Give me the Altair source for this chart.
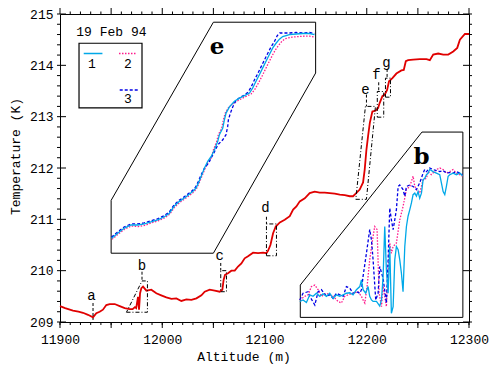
import altair as alt
import pandas as pd

# ---------------- main profile (altitude m, temperature K) ----------------
main_alt = [11900, 11905, 11912.7, 11918, 11922.5, 11927.4, 11932.3, 11935.5, 11938.8, 11942,
            11945.3, 11948.6, 11953.5, 11958.4, 11963.3, 11968.2, 11971, 11973.3, 11974.5, 11976.3,
            11977.3, 11978.3, 11979.6, 11981.2, 11984.5, 11989.3, 11994.2, 11999, 12004, 12009,
            12013.8, 12018.7, 12023.6, 12028.5, 12033.4, 12038.3, 12041.5, 12046.4, 12051.3, 12056.2,
            12058.8, 12060, 12061.4, 12064.3, 12067.6, 12070.9, 12074.1, 12077.4, 12080.6, 12083.9,
            12088.8, 12093.7, 12098.6, 12101.9, 12103.5, 12105.8, 12108.4, 12111, 12115, 12119.8,
            12124.7, 12128, 12131.2, 12134.5, 12139.4, 12144.2, 12149.1, 12154, 12158.9, 12163.8,
            12168.7, 12173.6, 12178.5, 12183.4, 12186.6, 12189.2, 12193.1, 12196.4, 12198, 12199.7,
            12201.3, 12203, 12205.5, 12208.8, 12211.1, 12212.7, 12215.3, 12217.6, 12219.9, 12221.8,
            12225.1, 12229, 12233.9, 12236.2, 12238.2, 12240.5, 12245.4, 12251.9, 12258.4, 12261.7,
            12265, 12269.9, 12274.8, 12279.7, 12284.6, 12288.5, 12291.1, 12296, 12300]
main_temp = [209.31, 209.27, 209.22, 209.20, 209.18, 209.14, 209.09, 209.17, 209.20, 209.24,
             209.33, 209.35, 209.35, 209.31, 209.27, 209.25, 209.25, 209.29, 209.27, 209.49,
             209.24, 209.56, 209.66, 209.69, 209.61, 209.63, 209.56, 209.52, 209.48, 209.45,
             209.46, 209.41, 209.44, 209.43, 209.46, 209.52, 209.59, 209.63, 209.61, 209.59,
             209.63, 209.82, 209.92, 209.95, 210.00, 210.00, 210.08, 210.14, 210.24, 210.28,
             210.35, 210.34, 210.35, 210.34, 210.39, 210.50, 210.73, 210.86, 210.94, 210.99,
             211.06, 211.19, 211.25, 211.35, 211.41, 211.51, 211.54, 211.52, 211.52, 211.51,
             211.50, 211.48, 211.47, 211.45, 211.45, 211.50, 211.58, 211.72, 211.97, 212.36,
             212.62, 212.88, 213.10, 213.12, 213.17, 213.27, 213.40, 213.43, 213.52, 213.69,
             213.75, 213.84, 213.90, 213.91, 214.08, 214.10, 214.11, 214.12, 214.12, 214.10,
             214.21, 214.23, 214.21, 214.21, 214.27, 214.34, 214.50, 214.61, 214.61]

# ---------------- inset "e" (drawn in main-axis units) ----------------
e1_alt = [11950.6, 11956.4, 11963.0, 11969.5, 11976.0, 11982.6, 11989.0, 11995.6, 12002.1, 12007.0,
          12011.9, 12016.8, 12023.3, 12029.8, 12033.0, 12035.4, 12037.9, 12041.3, 12044.5, 12047.7,
          12051.0, 12054.3, 12055.9, 12059.2, 12060.8, 12062.4, 12065.7, 12070.6, 12075.5, 12080.4,
          12085.3, 12088.5, 12091.7, 12095.1, 12098.3, 12101.5, 12104.8, 12108.1, 12111.3, 12114.6,
          12117.8, 12124.4, 12130.9, 12137.4, 12144.0, 12148.9]
e1_temp = [210.63, 210.73, 210.83, 210.89, 210.89, 210.91, 210.95, 210.99, 211.05, 211.12,
           211.26, 211.35, 211.44, 211.54, 211.61, 211.71, 211.83, 212.00, 212.13, 212.22,
           212.35, 212.52, 212.65, 212.78, 212.94, 213.07, 213.19, 213.30, 213.36, 213.41,
           213.46, 213.56, 213.69, 213.82, 213.95, 214.08, 214.21, 214.34, 214.43, 214.51,
           214.56, 214.60, 214.61, 214.62, 214.62, 214.60]
e2_alt = [11950.9, 11956.7, 11963.3, 11969.8, 11976.3, 11982.9, 11989.3, 11995.9, 12002.4, 12007.3,
          12012.2, 12017.1, 12023.6, 12030.1, 12033.3, 12035.7, 12038.2, 12041.6, 12044.8, 12048.0,
          12050.0, 12053.3, 12054.9, 12058.2, 12059.8, 12061.6, 12065.2, 12071.1, 12076.5, 12081.4,
          12086.8, 12090.5, 12094.2, 12097.6, 12100.8, 12104.0, 12107.3, 12110.6, 12113.8, 12117.1,
          12120.3, 12126.9, 12133.4, 12139.9, 12144.0, 12148.9]
e2_temp = [210.61, 210.71, 210.81, 210.87, 210.86, 210.88, 210.93, 210.97, 211.03, 211.10,
           211.24, 211.33, 211.42, 211.52, 211.59, 211.69, 211.81, 211.98, 212.11, 212.20,
           212.35, 212.52, 212.65, 212.78, 212.94, 213.07, 213.19, 213.28, 213.34, 213.39,
           213.44, 213.53, 213.66, 213.79, 213.92, 214.05, 214.18, 214.30, 214.39, 214.47,
           214.52, 214.55, 214.56, 214.57, 214.57, 214.55]
e3_alt = [11950.3, 11956.1, 11962.7, 11969.2, 11975.7, 11982.3, 11988.7, 11995.3, 12001.8, 12006.7,
          12011.6, 12016.5, 12023.0, 12029.5, 12032.7, 12035.1, 12037.6, 12041.3, 12045.5, 12047.7,
          12050.4, 12054.3, 12059.2, 12062.4, 12064.0, 12064.7, 12066.7, 12068.9, 12071.9, 12075.5,
          12080.4, 12084.0, 12087.0, 12090.0, 12093.4, 12096.6, 12099.8, 12103.1, 12106.4, 12109.6,
          12112.5, 12115.0, 12124.4, 12130.9, 12137.4, 12144.0, 12148.9]
e3_temp = [210.65, 210.75, 210.85, 210.91, 210.91, 210.93, 210.97, 211.01, 211.07, 211.14,
           211.28, 211.37, 211.46, 211.56, 211.63, 211.73, 211.85, 212.00, 212.10, 212.19,
           212.29, 212.45, 212.55, 212.65, 212.81, 212.94, 213.07, 213.19, 213.31, 213.37,
           213.42, 213.48, 213.58, 213.71, 213.84, 213.97, 214.10, 214.23, 214.36, 214.46,
           214.58, 214.63, 214.63, 214.64, 214.63, 214.64, 214.62]

# ---------------- inset "b" (drawn in main-axis units) ----------------
b1_alt = [12134.5, 12137.7, 12141.0, 12144.3, 12147.5, 12150.8, 12154.0, 12157.3, 12160.6, 12163.8,
          12167.1, 12170.3, 12173.6, 12176.9, 12180.1, 12183.4, 12186.6, 12189.9, 12193.2, 12194.8,
          12196.4, 12199.0, 12201.3, 12202.9, 12204.6, 12206.2, 12209.5, 12212.7, 12214.4, 12216.0,
          12217.6, 12219.2, 12220.9, 12222.5, 12224.1, 12225.8, 12227.4, 12229.0, 12230.7, 12232.3,
          12233.9, 12235.5, 12237.2, 12238.8, 12240.4, 12242.1, 12243.7, 12245.3, 12247.0, 12248.6,
          12250.2, 12251.8, 12253.5, 12255.1, 12256.7, 12258.4, 12260.0, 12261.6, 12264.9, 12268.1,
          12271.4, 12273.0, 12274.7, 12276.3, 12277.9, 12279.6, 12281.2, 12284.4, 12287.7, 12291.0,
          12293.6]
b1_temp = [209.40, 209.43, 209.38, 209.53, 209.50, 209.56, 209.50, 209.55, 209.50, 209.56,
           209.46, 209.53, 209.50, 209.53, 209.56, 209.57, 209.53, 209.63, 209.69, 209.82,
           209.63, 209.56, 209.69, 209.50, 209.43, 209.40, 209.40, 209.31, 209.43, 209.89,
           210.86, 210.02, 209.56, 210.47, 209.17, 209.30, 210.21, 210.47, 210.41, 210.21,
           209.95, 209.59, 210.47, 210.86, 211.06, 211.19, 211.32, 211.48, 211.51, 211.45,
           211.54, 211.41, 211.51, 211.77, 211.80, 211.87, 211.90, 211.97, 211.93, 211.90,
           211.87, 211.71, 211.54, 211.48, 211.64, 211.84, 211.87, 211.90, 211.87, 211.90,
           211.85]
b2_alt = [12134.5, 12139.4, 12142.6, 12145.9, 12149.2, 12152.4, 12155.7, 12160.6, 12167.1, 12172.0,
          12175.2, 12178.5, 12181.8, 12186.6, 12191.5, 12194.8, 12196.4, 12198.1, 12200.3, 12202.9,
          12206.2, 12207.8, 12210.1, 12212.1, 12214.4, 12216.0, 12217.6, 12219.2, 12220.9, 12222.5,
          12224.1, 12225.8, 12229.0, 12232.3, 12235.5, 12238.8, 12242.1, 12245.3, 12247.0, 12248.6,
          12251.8, 12255.1, 12258.4, 12260.0, 12263.2, 12268.1, 12271.4, 12274.7, 12277.9, 12281.2,
          12284.4, 12287.7, 12291.0, 12293.6]
b2_temp = [209.43, 209.50, 209.53, 209.69, 209.72, 209.63, 209.50, 209.56, 209.50, 209.40,
           209.37, 209.50, 209.53, 209.56, 209.59, 209.50, 209.43, 209.37, 209.69, 210.21,
           210.67, 210.86, 210.80, 209.56, 209.30, 209.69, 209.50, 209.30, 210.02, 210.54,
           210.34, 210.47, 210.54, 210.99, 211.25, 211.58, 211.64, 211.84, 211.64, 211.58,
           211.51, 211.77, 211.80, 211.93, 211.87, 211.97, 212.00, 211.97, 211.90, 211.93,
           211.97, 211.90, 211.87, 211.84]
b3_alt = [12134.5, 12137.7, 12142.6, 12144.3, 12149.2, 12152.4, 12155.7, 12160.6, 12163.8, 12167.1,
          12170.3, 12173.6, 12176.9, 12180.1, 12183.4, 12186.6, 12189.9, 12193.2, 12194.8, 12196.4,
          12199.7, 12202.9, 12204.6, 12206.2, 12208.8, 12211.1, 12212.7, 12216.0, 12219.2, 12220.9,
          12222.5, 12224.1, 12225.8, 12227.4, 12229.0, 12230.7, 12232.3, 12235.5, 12237.2, 12238.8,
          12242.1, 12245.3, 12248.6, 12251.8, 12255.1, 12256.7, 12258.4, 12261.6, 12264.9, 12271.4,
          12274.7, 12277.9, 12281.2, 12284.4, 12287.7, 12291.0, 12293.6]
b3_temp = [209.43, 209.56, 209.59, 209.50, 209.33, 209.59, 209.63, 209.50, 209.53, 209.46,
           209.56, 209.53, 209.50, 209.69, 209.66, 209.56, 209.59, 209.56, 209.63, 209.89,
           210.34, 210.80, 210.60, 210.21, 209.43, 209.56, 210.08, 209.85, 209.37, 210.21,
           211.22, 210.99, 210.80, 210.99, 211.19, 211.64, 211.67, 211.58, 211.45, 211.64,
           211.67, 211.64, 211.58, 211.71, 211.90, 211.97, 211.93, 212.00, 211.97, 211.93,
           211.95, 211.90, 211.91, 211.90, 211.93, 211.90, 211.87]

# ---------------- inset frames (solid) ----------------
frame_e_alt = [12050, 12150, 12150, 12050, 11950, 11950, 12050]
frame_e_temp = [214.84, 214.84, 213.85, 210.34, 210.34, 211.37, 214.84]
frame_b_alt = [12254, 12294, 12294, 12135, 12135, 12254]
frame_b_temp = [212.70, 212.70, 209.09, 209.09, 209.72, 212.70]

# ---------------- dash-dot zoom boxes ----------------
boxes = {
    "b": ([11965, 11985.5, 11985.5, 11980.2, 11965], [209.19, 209.19, 209.80, 209.80, 209.19]),
    "c": ([12057.2, 12062.8, 12062.8, 12057.2, 12057.2], [209.59, 209.59, 210.00, 210.00, 209.59]),
    "d": ([12101.9, 12111.7, 12111.7, 12101.9, 12101.9], [210.29, 210.29, 210.91, 210.91, 210.29]),
    "e": ([12189.3, 12199.7, 12208.5, 12198.7, 12189.3], [211.39, 211.39, 213.20, 213.20, 211.39]),
    "f": ([12210.3, 12216.6, 12216.6, 12210.3, 12210.3], [212.99, 212.99, 213.49, 213.49, 212.99]),
    "g": ([12218.3, 12223.2, 12223.2, 12218.3, 12218.3], [213.38, 213.38, 213.75, 213.75, 213.38]),
}
label_names = ["a", "b", "c", "d", "e", "f", "g"]
label_alt = [11930.7, 11980.2, 12056.2, 12100.9, 12198.7, 12209.5, 12219.3]
label_temp = [209.50, 210.10, 210.29, 211.22, 213.52, 213.82, 214.04]
stem_alt = [11932.3, 11980.2, 12057.2, 12101.9, 12199.7, 12211.7, 12219.9]
stem_top = [209.37, 209.98, 210.15, 211.05, 213.43, 213.67, 213.93]
stem_bot = [209.04, 209.80, 210.00, 210.91, 213.20, 213.49, 213.75]

inset_names = ["e", "b"]
inset_alt = [12053.6, 12253.5]
inset_temp = [214.35, 212.22]

# ---------------- legend ----------------
legend_title = "19 Feb 94"
legend_box = (11918.6, 11980.2, 213.17, 214.43)
legend_keys = ["1", "2", "3"]
legend_line_alt = [(11923.2, 11941.5), (11957.7, 11975.3), (11958.4, 11976.3)]
legend_line_temp = [214.23, 214.23, 213.52]
legend_key_alt = [11931.3, 11966.5, 11966.5]
legend_key_temp = [214.03, 214.03, 213.34]

# ---------------- axes ----------------
x_labels = [11900, 12000, 12100, 12200, 12300]
y_labels = [209, 210, 211, 212, 213, 214, 215]
x_minor = list(range(11900, 12301, 10))
x_major = list(range(11900, 12301, 50))
y_minor = [round(209 + 0.2 * i, 2) for i in range(31)]

W, H = 409, 308
X0, X1, Y0, Y1 = 11900, 12300, 209, 215
MPP = (X1 - X0) / W
KPP = (Y1 - Y0) / H
FONT = "Liberation Mono"

xs = alt.Scale(domain=[X0, X1], nice=False, zero=False)
ys = alt.Scale(domain=[Y0, Y1], nice=False, zero=False)
AX = alt.Axis(values=x_labels, ticks=False, domain=False, grid=False, format="d",
              labelPadding=11, labelFlush=False, labelOverlap=False,
              title="Altitude (m)", titleX=183.5, titleY=38, titleBaseline="alphabetic")
AY = alt.Axis(values=y_labels, ticks=False, domain=False, grid=False, format="d",
              labelPadding=7, labelOverlap=False,
              title="Temperature (K)", titleX=-41, titleY=142, titleBaseline="alphabetic")


def X(f="alt"):
    return alt.X(f + ":Q", scale=xs, axis=AX)


def Y(f="temp"):
    return alt.Y(f + ":Q", scale=ys, axis=AY)


def path_df(alts, temps, g="g"):
    return pd.DataFrame({"alt": alts, "temp": temps, "i": list(range(len(alts))), "g": g})


layers = []

# ticks
tick_rows = []
for v in x_minor:
    L = 7 if v in x_major else 2.5
    tick_rows.append({"alt": v, "alt2": v, "temp": Y0, "temp2": Y0 - 3 * KPP})
    tick_rows.append({"alt": v, "alt2": v, "temp": Y1, "temp2": Y1 + L * KPP})
for v in x_major:
    tick_rows.append({"alt": v, "alt2": v, "temp": Y0, "temp2": Y0 - 6 * KPP})
for v in y_minor:
    tick_rows.append({"alt": X0, "alt2": X0 - 3 * MPP, "temp": v, "temp2": v})
    tick_rows.append({"alt": X1, "alt2": X1 + 3 * MPP, "temp": v, "temp2": v})
for v in y_labels:
    tick_rows.append({"alt": X0, "alt2": X0 + 6 * MPP, "temp": v, "temp2": v})
    tick_rows.append({"alt": X1, "alt2": X1 - 6 * MPP, "temp": v, "temp2": v})
ticks = alt.Chart(pd.DataFrame(tick_rows)).mark_rule(color="black", strokeWidth=1).encode(
    x=X(), x2="alt2:Q", y=Y(), y2="temp2:Q")
layers.append(ticks)

# inset frames
frames = pd.concat([path_df(frame_e_alt, frame_e_temp, "fe"), path_df(frame_b_alt, frame_b_temp, "fb")])
layers.append(alt.Chart(frames).mark_line(color="black", strokeWidth=1).encode(
    x=X(), y=Y(), detail="g:N", order="i:Q"))

# inset curves
cyan = pd.concat([path_df(e1_alt, e1_temp, "e1"), path_df(b1_alt, b1_temp, "b1")])
pink = pd.concat([path_df(e2_alt, e2_temp, "e2"), path_df(b2_alt, b2_temp, "b2")])
blue = pd.concat([path_df(e3_alt, e3_temp, "e3"), path_df(b3_alt, b3_temp, "b3")])
C1, C2, C3 = "#00a8e8", "#ff1a8c", "#0000e6"
layers.append(alt.Chart(pink).mark_line(color=C2, strokeWidth=1.3, strokeDash=[1.5, 1.5]).encode(
    x=X(), y=Y(), detail="g:N", order="i:Q"))
layers.append(alt.Chart(blue).mark_line(color=C3, strokeWidth=1.3, strokeDash=[3, 2]).encode(
    x=X(), y=Y(), detail="g:N", order="i:Q"))
layers.append(alt.Chart(cyan).mark_line(color=C1, strokeWidth=1.3).encode(
    x=X(), y=Y(), detail="g:N", order="i:Q"))

# main curve
layers.append(alt.Chart(path_df(main_alt, main_temp, "main")).mark_line(
    color="#e00000", strokeWidth=1.8).encode(x=X(), y=Y(), order="i:Q"))

# dash-dot boxes
box_df = pd.concat([path_df(a, t, k) for k, (a, t) in boxes.items()])
layers.append(alt.Chart(box_df).mark_line(color="black", strokeWidth=1, strokeDash=[4, 2, 1, 2]).encode(
    x=X(), y=Y(), detail="g:N", order="i:Q"))

# stems
stems = pd.DataFrame({"alt": stem_alt, "temp": stem_top, "temp2": stem_bot})
layers.append(alt.Chart(stems).mark_rule(color="black", strokeWidth=1, strokeDash=[3, 2]).encode(
    x=X(), y=Y(), y2="temp2:Q"))

# labels
labs = pd.DataFrame({"alt": label_alt, "temp": label_temp, "t": label_names})
layers.append(alt.Chart(labs).mark_text(font=FONT, fontSize=14, color="black", baseline="middle").encode(
    x=X(), y=Y(), text="t:N"))
ilabs = pd.DataFrame({"alt": inset_alt, "temp": inset_temp, "t": inset_names})
layers.append(alt.Chart(ilabs).mark_text(font="DejaVu Serif", fontSize=23, fontWeight="bold", color="black",
                                         baseline="middle").encode(x=X(), y=Y(), text="t:N"))

# legend
lb = pd.DataFrame({"alt": [legend_box[0]], "alt2": [legend_box[1]], "temp": [legend_box[2]], "temp2": [legend_box[3]]})
layers.append(alt.Chart(lb).mark_rect(filled=False, stroke="black", strokeWidth=1.2).encode(
    x=X(), x2="alt2:Q", y=Y(), y2="temp2:Q"))
styles = [(C1, [1, 0]), (C2, [1.5, 1.5]), (C3, [3, 2])]
for k in range(3):
    d = pd.DataFrame({"alt": [legend_line_alt[k][0]], "alt2": [legend_line_alt[k][1]],
                      "temp": [legend_line_temp[k]]})
    m = alt.Chart(d).mark_rule(color=styles[k][0], strokeWidth=1.5,
                               strokeDash=styles[k][1]).encode(x=X(), x2="alt2:Q", y=Y())
    layers.append(m)
lk = pd.DataFrame({"alt": legend_key_alt, "temp": legend_key_temp, "t": legend_keys})
layers.append(alt.Chart(lk).mark_text(font=FONT, fontSize=13, color="black", baseline="middle").encode(
    x=X(), y=Y(), text="t:N"))
lt = pd.DataFrame({"alt": [11950.3], "temp": [214.64], "t": [legend_title]})
layers.append(alt.Chart(lt).mark_text(font=FONT, fontSize=13, color="black", baseline="middle").encode(
    x=X(), y=Y(), text="t:N"))

chart = alt.layer(*layers).properties(
    width=W, height=H, autosize="none",
    padding={"left": 52, "top": 6, "right": 27, "bottom": 43},
    background="white",
).configure_view(stroke="black", strokeWidth=1).configure_axis(
    labelFont=FONT, labelFontSize=13, labelColor="black",
    titleFont=FONT, titleFontSize=13, titleFontWeight="normal", titleColor="black",
)

chart.save("out.html", embed_options={"renderer": "svg", "actions": False})
